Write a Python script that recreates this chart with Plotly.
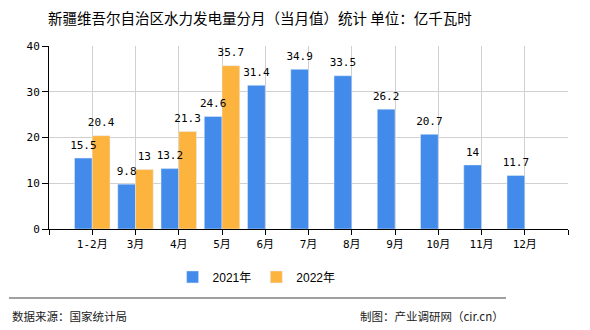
import plotly.graph_objects as go

# Monthly hydropower generation, Xinjiang (100 million kWh)
months = ["1-2月", "3月", "4月", "5月", "6月", "7月", "8月", "9月", "10月", "11月", "12月"]
values_2021 = [15.5, 9.8, 13.2, 24.6, 31.4, 34.9, 33.5, 26.2, 20.7, 14, 11.7]
values_2022 = [20.4, 13, 21.3, 35.7, None, None, None, None, None, None, None]
y_ticks = [0, 10, 20, 30, 40]

BLUE = "#428BEA"
ORANGE = "#FDB43F"
NUM_FONT = "DejaVu Sans Mono, Noto Sans CJK SC"
CJK_FONT = "Noto Sans CJK SC"

BARGAP = 0.18
bar_w = (1 - BARGAP) / 2

pos = list(range(len(months)))


def fmt(v):
    return "" if v is None else f"{v:g}"


fig = go.Figure()
series = [("2021年", values_2021, BLUE, -bar_w / 2), ("2022年", values_2022, ORANGE, bar_w / 2)]
for name, vals, color, _ in series:
    fig.add_trace(go.Bar(name=name, x=pos, y=vals, marker_color=color))

# Value labels drawn above each bar (on top of all bars)
for name, vals, color, off in series:
    fig.add_trace(go.Scatter(
        x=[p + off for p in pos], y=vals, mode="markers+text",
        marker=dict(size=9, opacity=0), text=[fmt(v) for v in vals],
        textposition="top center",
        textfont=dict(family=NUM_FONT, size=11, color="#000"),
        showlegend=False, hoverinfo="skip", cliponaxis=False,
    ))

tickvals = [-1] + pos + [len(months)]
ticktext = [""] + months + [""]

fig.update_layout(
    width=590, height=330,
    margin=dict(l=49, r=22, t=46, b=101),
    paper_bgcolor="white", plot_bgcolor="white",
    barmode="group", bargap=BARGAP, bargroupgap=0,
    font=dict(family=NUM_FONT, size=11, color="#000"),
    showlegend=True,
    legend=dict(
        orientation="h", x=0.40, xanchor="center", y=-0.262, yanchor="middle",
        font=dict(family="Liberation Sans, Noto Sans CJK SC", size=12, color="#000"),
    ),
    xaxis=dict(
        range=[-1, len(months)], tickvals=tickvals, ticktext=ticktext,
        showgrid=True, gridcolor="#d0d0d0", gridwidth=1,
        showline=True, linecolor="#000", linewidth=1,
        ticks="outside", ticklen=5, tickcolor="#000",
        tickfont=dict(family=NUM_FONT, size=11, color="#000"),
        zeroline=False, fixedrange=True,
    ),
    yaxis=dict(
        range=[0, 40], tickvals=y_ticks,
        showgrid=True, gridcolor="#d0d0d0", gridwidth=1,
        showline=True, linecolor="#000", linewidth=1,
        ticks="outside", ticklen=6, tickcolor="#000",
        tickfont=dict(family=NUM_FONT, size=11, color="#000"),
        zeroline=False, fixedrange=True,
    ),
)

# Title
fig.add_annotation(
    text="新疆维吾尔自治区水力发电量分月（当月值）统计 单位：亿千瓦时",
    xref="paper", yref="paper", x=0.4066, y=1.158,
    xanchor="center", yanchor="middle", showarrow=False,
    font=dict(family=CJK_FONT, size=14.5, color="#000"),
)

# Footer separator and source notes
fig.add_shape(
    type="line", xref="paper", yref="paper",
    x0=-0.077, x1=0.8805, y0=-0.377, y1=-0.377,
    line=dict(color="#808080", width=1.5),
)
fig.add_annotation(
    text="数据来源：国家统计局",
    xref="paper", yref="paper", x=-0.0751, y=-0.475,
    xanchor="left", yanchor="middle", showarrow=False,
    font=dict(family=CJK_FONT, size=11.5, color="#222"),
)
fig.add_annotation(
    text="制图：产业调研网（cir.cn）",
    xref="paper", yref="paper", x=0.8805, y=-0.475,
    xanchor="right", yanchor="middle", showarrow=False,
    font=dict(family=CJK_FONT, size=11.5, color="#222"),
)

fig.write_html("out.html")
